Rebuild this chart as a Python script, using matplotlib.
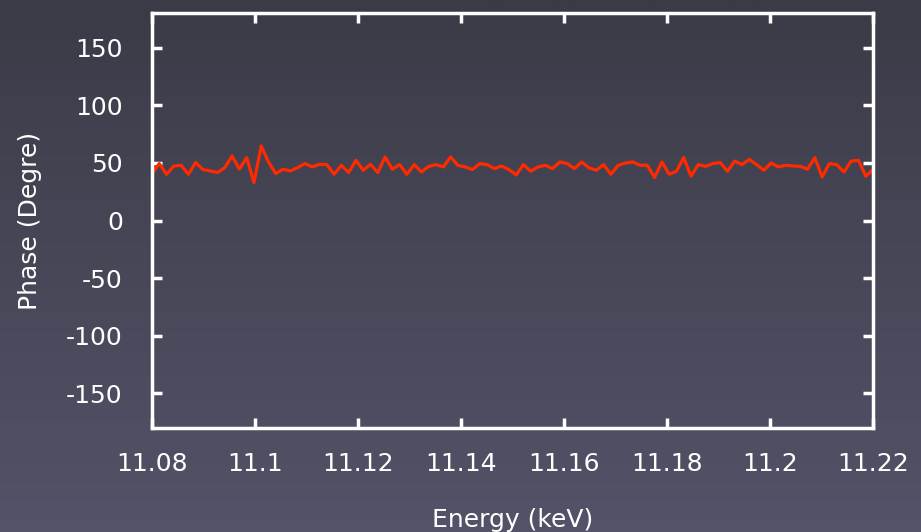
import numpy as np
import matplotlib
matplotlib.use("Agg")
import matplotlib.pyplot as plt
from matplotlib.colors import LinearSegmentedColormap

# Energy grid (keV) and measured phase (degrees)
energy = np.linspace(11.08, 11.22, 100)
phase = [
    40.7, 49.4, 40.1, 47.3, 47.9, 40.1, 50.3, 44.2, 43.0, 41.6,
    45.9, 56.0, 44.5, 54.6, 33.0, 64.6, 50.8, 40.7, 44.5, 43.0,
    45.9, 49.4, 46.5, 48.8, 48.5, 40.1, 47.9, 41.6, 52.2, 43.6,
    48.8, 41.6, 55.1, 44.5, 48.5, 40.1, 48.5, 42.1, 47.0, 48.5,
    46.5, 55.1, 47.9, 46.5, 44.2, 49.4, 48.5, 45.1, 47.3, 44.2,
    39.5, 48.5, 42.7, 46.5, 47.9, 45.1, 50.8, 49.4, 45.1, 50.8,
    45.6, 43.6, 48.5, 40.1, 47.9, 49.9, 50.8, 47.9, 47.9, 37.3,
    50.8, 40.1, 42.7, 54.6, 38.4, 48.5, 47.0, 49.4, 50.3, 42.7,
    51.6, 48.5, 53.1, 48.5, 43.6, 49.9, 46.5, 47.9, 47.3, 47.0,
    44.5, 54.6, 37.8, 49.4, 48.5, 42.1, 51.6, 52.2, 38.4, 44.2,
]

xticks = [11.08, 11.10, 11.12, 11.14, 11.16, 11.18, 11.20, 11.22]
xtick_labels = ["11.08", "11.1", "11.12", "11.14", "11.16", "11.18", "11.2", "11.22"]
yticks = [-150, -100, -50, 0, 50, 100, 150]
ytick_labels = ["-150", "-100", "-50", "0", "50", "100", "150"]

fig = plt.figure(figsize=(9.21, 5.32), dpi=100)

# dark gradient background
bg = fig.add_axes([0, 0, 1, 1], zorder=-1)
cmap = LinearSegmentedColormap.from_list("bg", ["#3b3b47", "#535369"])
bg.imshow(np.linspace(0, 1, 256).reshape(-1, 1), aspect="auto", cmap=cmap,
          extent=[0, 1, 0, 1])
bg.axis("off")

ax = fig.add_axes([0.165, 0.1955, 0.783, 0.780])
ax.set_facecolor("none")
ax.plot(energy, phase, color="#ff2a00", linewidth=2.3)

ax.set_xlim(11.08, 11.22)
ax.set_ylim(-180, 180)
ax.set_xticks(xticks)
ax.set_xticklabels(xtick_labels)
ax.set_yticks(yticks)
ax.set_yticklabels(ytick_labels)

for side in ax.spines.values():
    side.set_color("white")
    side.set_linewidth(2.5)

ax.tick_params(direction="in", length=7, width=2.5, color="white",
               labelcolor="white", labelsize=18, top=True, right=True)
ax.tick_params(axis="y", pad=21)
ax.tick_params(axis="x", pad=17)

ax.set_xlabel("Energy (keV)", color="white", fontsize=18, labelpad=23)
ax.set_ylabel("Phase (Degre)", color="white", fontsize=18, labelpad=17)

fig.savefig("out.png", dpi=100)
